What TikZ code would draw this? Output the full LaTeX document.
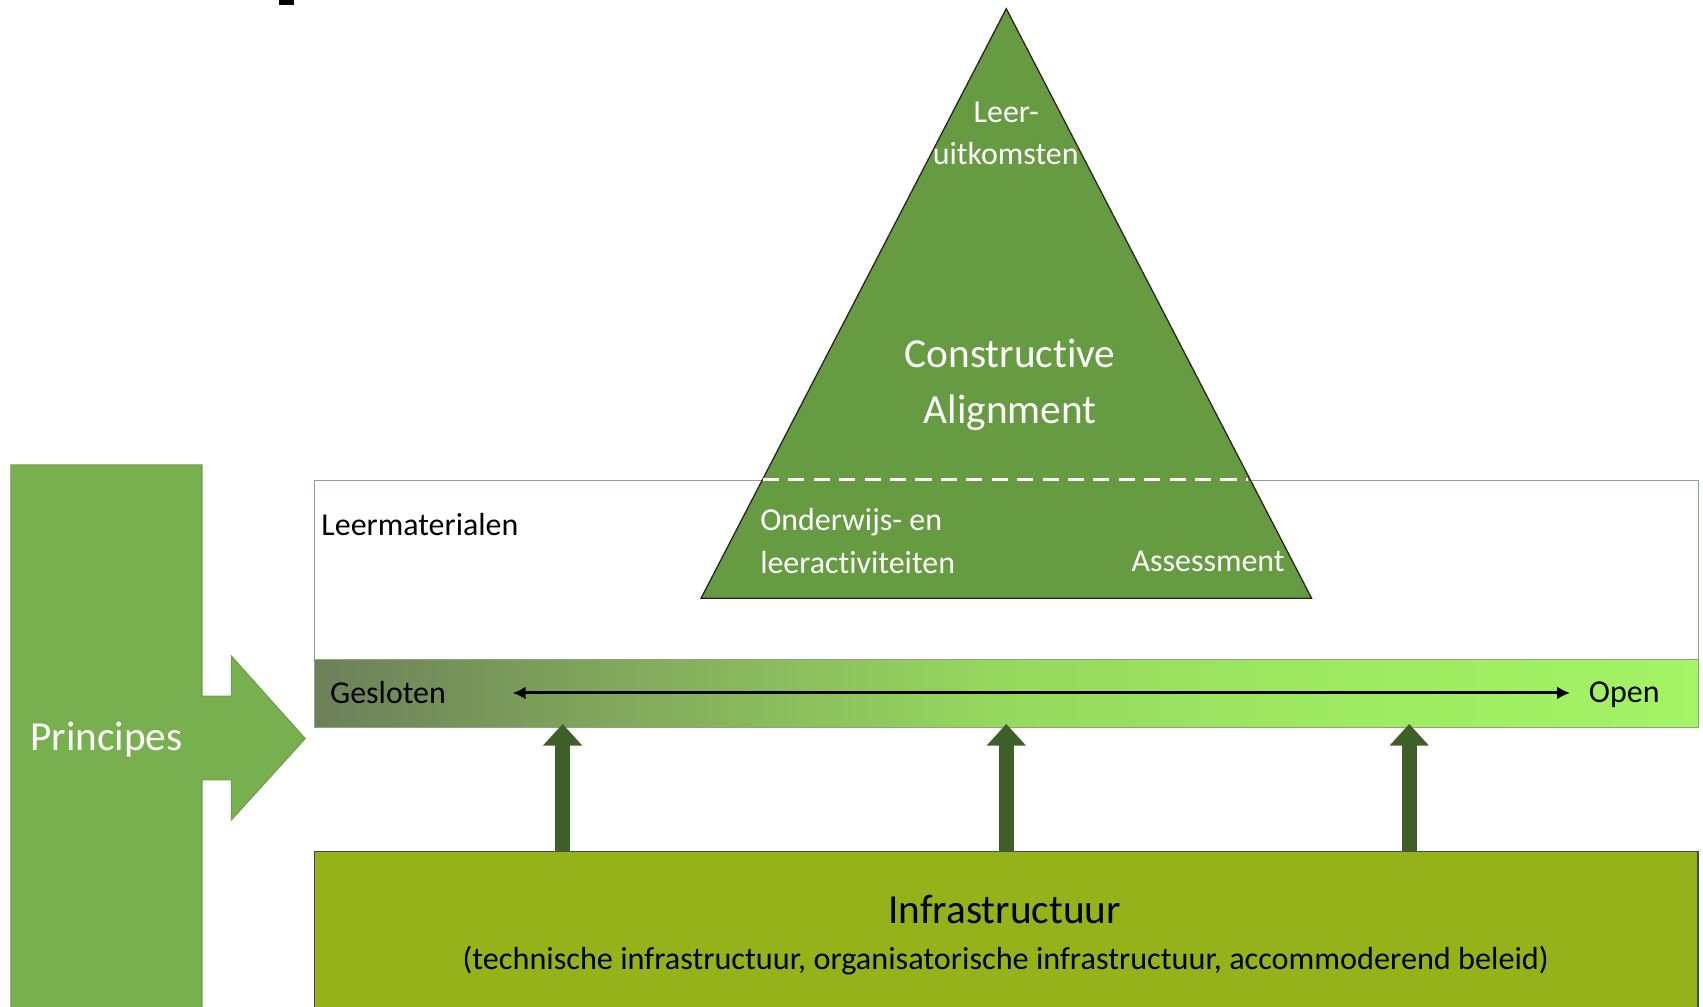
\documentclass[tikz,border=0pt]{standalone}
\usepackage{fontspec}
\setmainfont{Carlito}[Ligatures={NoCommon}]
\usetikzlibrary{arrows.meta}
\definecolor{trigreen}{HTML}{679B41}
\definecolor{princegreen}{HTML}{79B04F}
\definecolor{princeedge}{HTML}{6E9F48}
\definecolor{infragreen}{HTML}{95B21B}
\definecolor{infraedge}{HTML}{3C4C66}
\definecolor{boxedge}{HTML}{8EA47E}
\definecolor{gradleft}{HTML}{6C8059}
\definecolor{gradmida}{HTML}{84AE5C}
\definecolor{gradmidb}{HTML}{97D95E}
\definecolor{gradmidc}{HTML}{9EEA61}
\definecolor{gradright}{HTML}{A4F466}
\definecolor{uparrowcol}{HTML}{3F5F2A}
\pgfdeclarehorizontalshading{barshade}{100bp}{color(0bp)=(gradleft); color(25bp)=(gradleft); color(37.5bp)=(gradmida); color(50bp)=(gradmidb); color(62.5bp)=(gradmidc); color(75bp)=(gradright); color(100bp)=(gradright)}
\begin{document}
\begin{tikzpicture}[x=0.5pt,y=-0.5pt,
  smalltext/.style={font=\fontsize{14.7}{18}\selectfont, inner sep=0pt, outer sep=0pt},
  bigtext/.style={font=\fontsize{19}{24}\selectfont, inner sep=0pt, outer sep=0pt},
  band/.style={anchor=north west, inner sep=0pt, outer sep=0pt, minimum width=636.9pt},
  uparrow/.style={uparrowcol, line width=7pt, -{Triangle[width=17.5pt,length=10pt]}},
  scalearrow/.style={line width=1.4pt, {Latex[length=6pt,width=6pt]}-{Latex[length=6pt,width=6pt]}}]
\useasboundingbox (0,0) rectangle (1568,927);
\clip (0,0) rectangle (1568,927);
\fill[white] (0,0) rectangle (1568,927);
% small black mark at top
\fill[black] (257,0) rectangle (271,5);
% Principes block arrow
\path[draw=princeedge, line width=0.5pt, fill=princegreen]
  (10,428) -- (186,428) -- (186,641) -- (213,641) -- (213,604) -- (281,680)
  -- (213,755) -- (213,718) -- (186,718) -- (186,940) -- (10,940) -- cycle;
\node[bigtext, white, anchor=base west] (princ) at (28,691) {Principes};
% Leermaterialen box
\node[band, draw=boxedge, line width=0.5pt, fill=white, minimum height=113.75pt] (lm) at (289.7,442.5) {};
% gradient bar
\node[band, draw=boxedge, line width=0.5pt, shading=barshade, minimum height=31.35pt] (bar) at (289.7,607.3) {};
% Infrastructure box
\node[band, draw=infraedge, line width=0.6pt, fill=infragreen, minimum height=90pt] (infra) at (289.7,784) {};
% triangle
\draw[draw=black!85, line width=0.6pt, fill=trigreen, line join=miter]
  (926.5,8) coordinate (apex) -- (1207.6,550.8) coordinate (br) -- (645.5,550.8) coordinate (bl) -- cycle;
\coordinate (dl) at (702.5,441.6);
\coordinate (dr) at (1149.5,441.6);
\draw[white, line width=1.5pt, dash pattern=on 7.4pt off 4.3pt] (dl) -- (dr);
% texts
\node[smalltext, anchor=base west] (lmt) at (296,493) {Leermaterialen};
\node[smalltext, anchor=base west] (gesl) at (304,648) {Gesloten};
\node[smalltext, anchor=base west] (open) at (1463,647) {Open};
\node[smalltext, white, anchor=base] (leer) at (926.5,113) {Leer-};
\node[smalltext, white, anchor=base] (uitk) at (926,151) {uitkomsten};
\node[bigtext, white, anchor=base] (constr) at (930,338.6) {Construct\kern0pt ive};
\node[bigtext, white, anchor=base] (align) at (930,389.6) {Alignment};
\node[smalltext, white, anchor=base west] (onderw) at (700,488) {Onderwijs- en};
\node[smalltext, white, anchor=base west] (leerac) at (700,528) {leeract\kern0pt iviteiten};
\node[smalltext, white, anchor=base west] (assess) at (1042,526) {Assessment};
\node[bigtext, anchor=base] (infrat) at (925,850) {Infrastructuur};
\node[smalltext, anchor=base] (infrasub) at (926,893) {\resizebox{500pt}{\height}{(technische infrastructuur, organisatorische infrastructuur, accommoderend beleid)}};
% scale arrow
\coordinate (sl) at (472,638);
\coordinate (sr) at (1445.6,638);
\draw[scalearrow] (sl) -- (sr);
% up arrows
\coordinate (u1b) at (518,784); \coordinate (u1t) at (518,666.5);
\coordinate (u2b) at (926.5,784); \coordinate (u2t) at (926.5,666.5);
\coordinate (u3b) at (1297.5,784); \coordinate (u3t) at (1297.5,666.5);
\draw[uparrow] (u1b) -- (u1t);
\draw[uparrow] (u2b) -- (u2t);
\draw[uparrow] (u3b) -- (u3t);
\end{tikzpicture}
\end{document}
